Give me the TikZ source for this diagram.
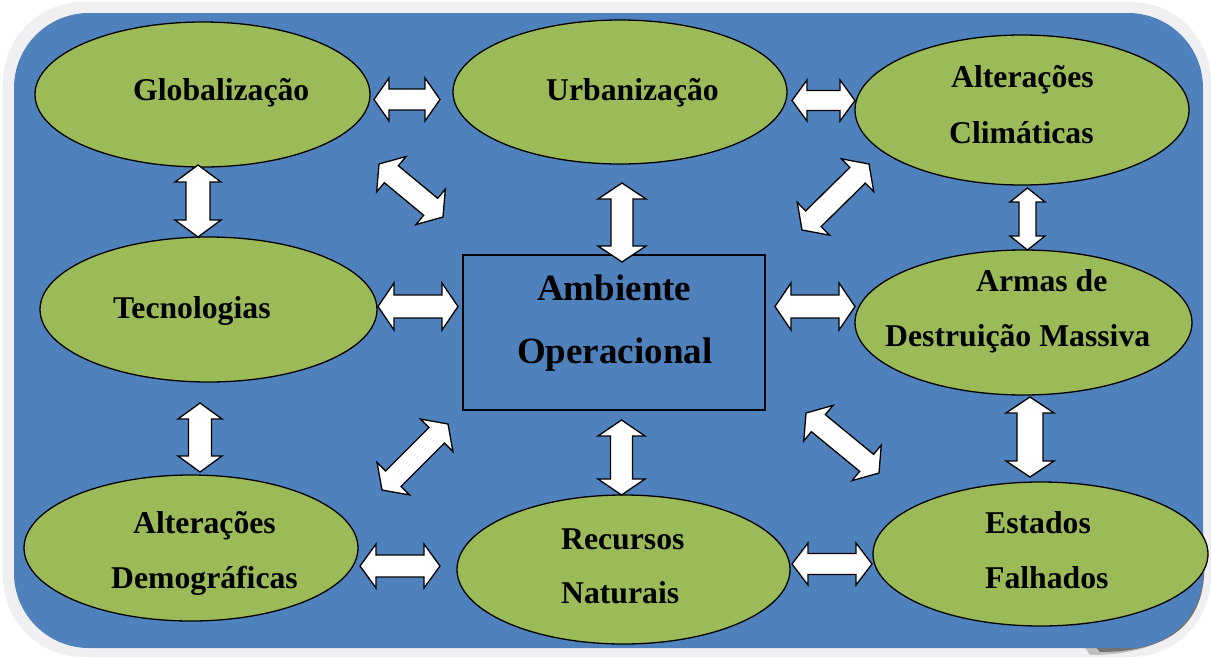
\documentclass[tikz,border=0pt]{standalone}
\usepackage{fontspec}
\setmainfont{Liberation Serif}
\usetikzlibrary{shapes.geometric,calc}
\definecolor{bgblue}{HTML}{4F81BD}
\definecolor{elgreen}{HTML}{9BBB59}
\definecolor{framegray}{HTML}{F0F0F2}
\newcommand\dblarrow[5]{%
  \coordinate (pa) at ($(#1)!#5!(#2)$);
  \coordinate (pb) at ($(#2)!#5!(#1)$);
  \path[dblarr] (#1) -- ($(pa)!#3!90:(#2)$) -- ($(pa)!#4!90:(#2)$)
    -- ($(pb)!#4!-90:(#1)$) -- ($(pb)!#3!-90:(#1)$) -- (#2)
    -- ($(pb)!#3!90:(#1)$) -- ($(pb)!#4!90:(#1)$)
    -- ($(pa)!#4!-90:(#2)$) -- ($(pa)!#3!-90:(#2)$) -- cycle;
}
\begin{document}
\begin{tikzpicture}[x=1pt,y=-1pt,
  ell/.style={ellipse, draw=black, line width=1.3pt, fill=elgreen, inner sep=0pt},
  lbl/.style={font=\bfseries\fontsize{31.7}{38}\selectfont, anchor=base west, inner sep=0pt},
  clbl/.style={font=\bfseries\fontsize{37}{44}\selectfont, anchor=base west, inner sep=0pt},
  dblarr/.style={draw=black, line width=1.3pt, fill=white, line join=miter}]
\useasboundingbox (0,0) rectangle (1211,657);
% background frame and curled shadow
\fill[framegray, rounded corners=80pt] (3,2) rectangle (1211,657);
\fill[black!25] (1195,520) -- (1203,530) .. controls (1211,600) and (1190,655) .. (1090,655) -- (1080,640) -- cycle;
\fill[black!55] (1195,540) -- (1204,555) .. controls (1208,610) and (1185,652) .. (1100,652) -- (1090,640) -- cycle;
\fill[bgblue, rounded corners=75pt] (14,13) rectangle (1203,648);
% ellipses
\node[ell, minimum width=335pt, minimum height=145pt] (glob) at (202.5,94.5) {};
\node[ell, minimum width=334pt, minimum height=144pt] (urb) at (620,92) {};
\node[ell, minimum width=334pt, minimum height=150pt] (clim) at (1022,110) {};
\node[ell, minimum width=337pt, minimum height=145pt] (tec) at (208.5,309.5) {};
\node[ell, minimum width=337pt, minimum height=145pt] (armas) at (1023.5,322.5) {};
\node[ell, minimum width=334pt, minimum height=146pt] (dem) at (191,548) {};
\node[ell, minimum width=333pt, minimum height=149pt] (rec) at (623.5,569.5) {};
\node[ell, minimum width=335pt, minimum height=144pt] (est) at (1040.5,554) {};
% central box
\node[draw=black, line width=1.3pt, fill=bgblue, minimum width=302pt, minimum height=155pt, inner sep=0pt] (amb) at (614,332.5) {};
% labels
\node[lbl] (tglob) at (133,100) {Globalização};
\node[lbl] (turb) at (546,100) {Urbanização};
\node[lbl] (tclima) at (951,87) {Alterações};
\node[lbl] (tclimb) at (949,143) {Climáticas};
\node[lbl] (ttec) at (113,318) {Tecnologias};
\node[lbl] (tarmasa) at (976,291) {Armas de};
\node[lbl] (tarmasb) at (885,346) {Destruição Massiva};
\node[lbl] (tdema) at (133,533) {Alterações};
\node[lbl] (tdemb) at (111,588) {Demográficas};
\node[lbl] (treca) at (561,549) {Recursos};
\node[lbl] (trecb) at (561,603) {Naturais};
\node[lbl] (testa) at (985,533) {Estados};
\node[lbl] (testb) at (985,588) {Falhados};
\node[clbl] (tamba) at (537,300) {Ambiente};
\node[clbl] (tambb) at (517,363) {Operacional};
% arrow end points
\coordinate (a1s) at (374,99.5);   \coordinate (a1e) at (440,99.5);
\coordinate (a2s) at (792,100.5);  \coordinate (a2e) at (855,100.5);
\coordinate (a3s) at (198,165);    \coordinate (a3e) at (198,237);
\coordinate (a4s) at (200,403);    \coordinate (a4e) at (200,472);
\coordinate (a5s) at (378,306.5);  \coordinate (a5e) at (458,306.5);
\coordinate (a6s) at (775,306.5);  \coordinate (a6e) at (855,306.5);
\coordinate (a7s) at (622,183);    \coordinate (a7e) at (622,262);
\coordinate (a8s) at (621.5,420);  \coordinate (a8e) at (621.5,495);
\coordinate (a9s) at (1027.5,188); \coordinate (a9e) at (1027.5,250);
\coordinate (a10s) at (1030,397);  \coordinate (a10e) at (1030,477);
\coordinate (a11s) at (360,566);   \coordinate (a11e) at (440,566);
\coordinate (a12s) at (792,564);   \coordinate (a12e) at (872,564);
\coordinate (a13s) at (379,164);   \coordinate (a13e) at (443,217);
\coordinate (a14s) at (869,164);   \coordinate (a14e) at (802,230);
\coordinate (a15s) at (382,490);   \coordinate (a15e) at (448,424);
\coordinate (a16s) at (806,413);   \coordinate (a16e) at (879,473);
% arrows
\dblarrow{a1s}{a1e}{21.5pt}{10.5pt}{15pt}
\dblarrow{a2s}{a2e}{20.5pt}{10pt}{15pt}
\dblarrow{a3s}{a3e}{23pt}{12pt}{17pt}
\dblarrow{a4s}{a4e}{22pt}{11.5pt}{16pt}
\dblarrow{a5s}{a5e}{23.5pt}{11.5pt}{16pt}
\dblarrow{a6s}{a6e}{23.5pt}{11.5pt}{16pt}
\dblarrow{a7s}{a7e}{24pt}{11pt}{16pt}
\dblarrow{a8s}{a8e}{23.5pt}{11pt}{16pt}
\dblarrow{a9s}{a9e}{17.5pt}{8.5pt}{14pt}
\dblarrow{a10s}{a10e}{24pt}{13pt}{16pt}
\dblarrow{a11s}{a11e}{22pt}{11pt}{16pt}
\dblarrow{a12s}{a12e}{21pt}{10.5pt}{16pt}
\dblarrow{a13s}{a13e}{23pt}{11pt}{16pt}
\dblarrow{a14s}{a14e}{23pt}{11pt}{16pt}
\dblarrow{a15s}{a15e}{23pt}{11pt}{16pt}
\dblarrow{a16s}{a16e}{23pt}{11pt}{16pt}
\end{tikzpicture}
\end{document}
